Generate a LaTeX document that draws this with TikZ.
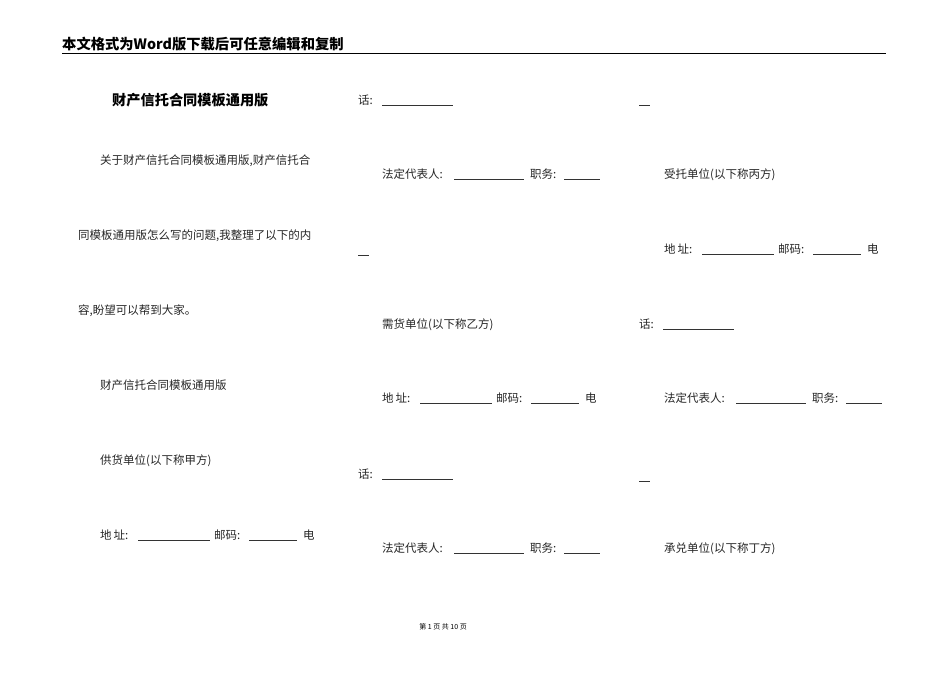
\documentclass[tikz,border=0pt]{standalone}
\usepackage{fontspec}
\newfontfamily\cjk{Noto Sans CJK SC}
\begin{document}
\begin{tikzpicture}[x=1pt,y=-1pt,
  t/.style={anchor=base west,inner sep=0pt,font=\cjk\fontsize{11.5}{13}\selectfont,text=black!85},
  ul/.style={line width=0.6pt,black!80}]
\useasboundingbox (0,0) rectangle (950,672);
\fill[white] (0,0) rectangle (950,672);
\newcommand\T[3]{\node[t] at (#1,#2+4) {#3};}
\newcommand\U[3]{\draw[ul] (#1,#3+5) -- (#2,#3+5);}
\newcommand\Addr[2]{\T{#1}{#2}{地\,址:}\U{#1+38}{#1+110}{#2}\T{#1+114}{#2}{邮码:}\U{#1+149}{#1+197}{#2}\T{#1+203}{#2}{电}}
\newcommand\Rep[2]{\T{#1}{#2}{法定代表人:}\U{#1+72}{#1+142}{#2}\T{#1+148}{#2}{职务:}\U{#1+182}{#1+218}{#2}}
\node[anchor=base west,inner sep=0pt,font=\cjk\bfseries\fontsize{14.3}{16}\selectfont] at (62,49) {本文格式为Word版下载后可任意编辑和复制};
\draw[line width=0.8pt] (62,53) -- (886,53);
\node[anchor=base west,inner sep=0pt,font=\cjk\bfseries\fontsize{14.2}{16}\selectfont] at (112,105) {财产信托合同模板通用版};
\T{100}{160}{关于财产信托合同模板通用版,财产信托合}
\T{78}{235}{同模板通用版怎么写的问题,我整理了以下的内}
\T{78}{310}{容,盼望可以帮到大家。}
\T{100}{385}{财产信托合同模板通用版}
\T{100}{460}{供货单位(以下称甲方)}
\Addr{100}{535}
% col2
\T{358}{100}{话:}\U{382}{453}{100}
\Rep{382}{174}
\U{358}{369}{250}
\T{382}{324}{需货单位(以下称乙方)}
\Addr{382}{398}
\T{358}{474}{话:}\U{382}{453}{474}
\Rep{382}{548}
% col3
\U{639}{650}{100}
\T{664}{174}{受托单位(以下称丙方)}
\Addr{664}{249}
\T{639}{324}{话:}\U{663}{734}{324}
\Rep{664}{398}
\U{639}{650}{476}
\T{664}{548}{承兑单位(以下称丁方)}
\node[inner sep=0pt,font=\cjk\fontsize{7}{8}\selectfont] at (443,627) {第 1 页 共 10 页};
\end{tikzpicture}
\end{document}
